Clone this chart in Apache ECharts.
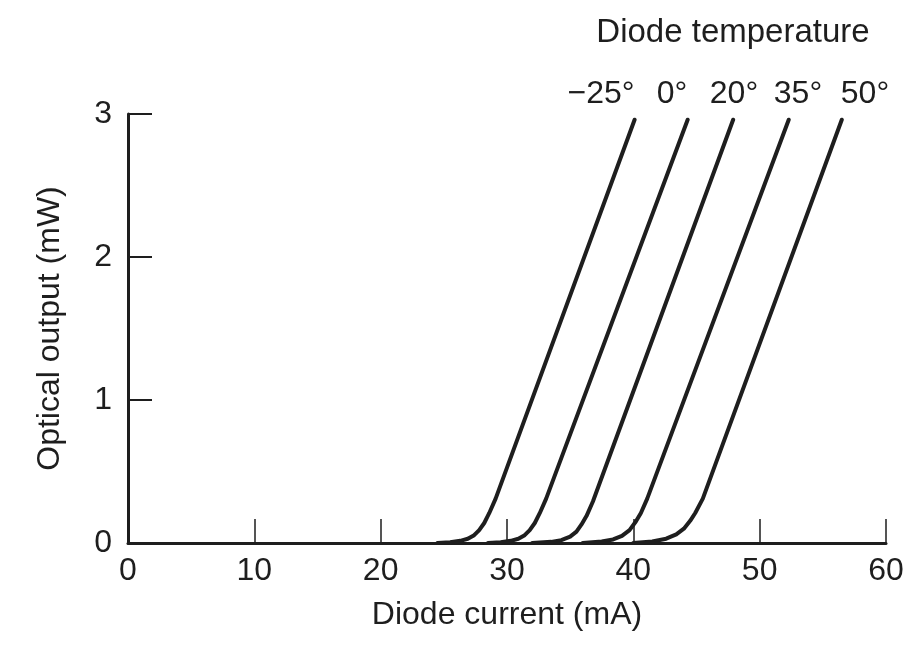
<!DOCTYPE html>
<html>
<head>
<meta charset="utf-8">
<script src="https://cdn.jsdelivr.net/npm/echarts@6/dist/echarts.min.js"></script>
<style>html,body{margin:0;padding:0;background:#fff}#c{width:913px;height:647px}</style>
</head>
<body>
<div id="c"></div>
<script>
// Data (x: diode current mA, y: optical output mW)
var tempLabels = ['\u221225\u00b0', '0\u00b0', '20\u00b0', '35\u00b0', '50\u00b0'];
var curveM25 = [[24.5,0],[25.5,0.005],[26.3,0.015],[26.9,0.03],[27.4,0.055],[27.8,0.09],[28.2,0.14],[28.6,0.21],[29.1,0.31],[40.1,2.96]];
var curve0   = [[28.5,0],[29.5,0.005],[30.3,0.015],[30.9,0.03],[31.4,0.055],[31.8,0.09],[32.2,0.14],[32.6,0.21],[33.1,0.31],[44.3,2.96]];
var curve20  = [[32,0],[33.5,0.008],[34.3,0.02],[35,0.045],[35.5,0.08],[35.9,0.13],[36.3,0.19],[36.8,0.29],[47.9,2.96]];
var curve35  = [[36,0],[37.5,0.01],[38.4,0.025],[39.1,0.05],[39.7,0.09],[40.2,0.15],[40.6,0.21],[41.1,0.31],[52.3,2.96]];
var curve50  = [[40,0],[41.5,0.01],[42.6,0.03],[43.4,0.06],[44,0.1],[44.5,0.155],[44.9,0.21],[45.5,0.31],[56.5,2.96]];
var curves = [curveM25, curve0, curve20, curve35, curve50];
var xTicks = [0,10,20,30,40,50,60];
var yTicks = [0,1,2,3];

var FONT = '"Liberation Sans", Arial, sans-serif';
var INK = '#1e1e1e';
var labelX = [601, 672, 734, 798, 865];

var chart = echarts.init(document.getElementById('c'), null, {renderer:'canvas'});
var series = curves.map(function(d, i){
  return {
    type:'line', name: tempLabels[i], data: d, showSymbol:false, symbol:'none',
    smooth:false,
    lineStyle:{color:INK, width:4, cap:'round', join:'round'},
    silent:true, z:3
  };
});
chart.setOption({
  animation:false,
  backgroundColor:'#ffffff',
  grid:{left:128, right:27, top:114, bottom:104},
  xAxis:{
    type:'value', min:xTicks[0], max:xTicks[xTicks.length-1], interval:10,
    name:'Diode current (mA)', nameLocation:'middle', nameGap:56,
    nameTextStyle:{fontFamily:FONT, fontSize:32, color:INK},
    axisLine:{show:true, onZero:false, lineStyle:{color:INK, width:3}},
    axisTick:{show:true, inside:true, length:24, lineStyle:{color:INK, width:1.5}},
    axisLabel:{fontFamily:FONT, fontSize:32, color:INK, margin:12},
    splitLine:{show:false}
  },
  yAxis:{
    type:'value', min:yTicks[0], max:yTicks[yTicks.length-1], interval:1,
    name:'Optical output (mW)', nameLocation:'middle', nameGap:62, nameRotate:90,
    nameTextStyle:{fontFamily:FONT, fontSize:32, color:INK},
    axisLine:{show:true, onZero:false, lineStyle:{color:INK, width:3}},
    axisTick:{show:true, inside:true, length:24, lineStyle:{color:INK, width:2}},
    axisLabel:{fontFamily:FONT, fontSize:32, color:INK, margin:16},
    splitLine:{show:false}
  },
  graphic: [{
    type:'text', x:733, y:33,
    style:{text:'Diode temperature', font:'33px ' + FONT, fill:INK, textAlign:'center', textVerticalAlign:'middle'}
  }].concat(tempLabels.map(function(t, i){
    return {type:'text', x:labelX[i], y:94,
      style:{text:t, font:'32px ' + FONT, fill:INK, textAlign:'center', textVerticalAlign:'middle'}};
  })),
  series: series
});
</script>
</body>
</html>
